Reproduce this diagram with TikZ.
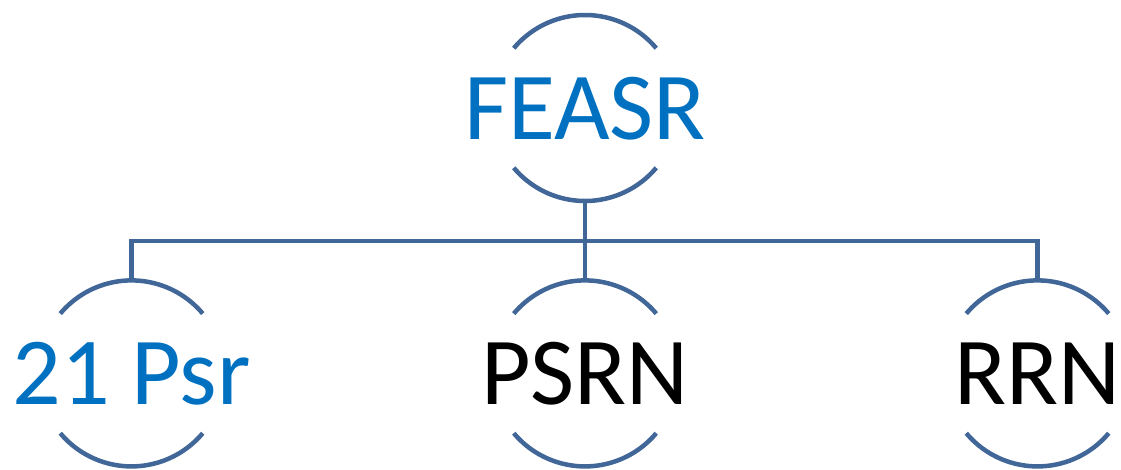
\documentclass[tikz,border=0pt]{standalone}
\usepackage{fontspec}
\setmainfont{Carlito}
\usepackage{tikz}
\usetikzlibrary{positioning}
\definecolor{ringblue}{RGB}{65,102,152}
\definecolor{textblue}{RGB}{0,112,192}
\tikzset{
  member/.style={rectangle, inner sep=0pt, minimum height=186pt, text height=62pt, text depth=0pt, font=\fontsize{96}{100}\selectfont},
  ring/.style={draw=ringblue, line width=4.5pt},
  link/.style={draw=ringblue, line width=4.5pt}
}

\begin{document}
\begin{tikzpicture}[x=1pt, y=1pt]

\useasboundingbox (0,0) rectangle (1121,-469);

\node[member, text=textblue] (feasr) at (585,-108) {FEASR};

\node[member, below = 79pt of feasr] (psrn) {PSRN};

\node[member, text=textblue, left = 453.5pt of psrn.center, anchor=center] (psr) {21 Psr};

\node[member, right = 452.5pt of psrn.center, anchor=center] (rrn) {RRN};

\foreach \n in {feasr, psr, psrn, rrn} {
  \draw[ring] ([shift={(40:93pt)}]\n.center) arc[start angle=40, end angle=140, radius=93pt];
  \draw[ring] ([shift={(220:93pt)}]\n.center) arc[start angle=220, end angle=320, radius=93pt];
}

\coordinate (bus) at ([yshift=-40pt]feasr.south);

\draw[link] (feasr.south) -- (psrn.north);
\draw[link, line join=miter] (psr.north) |- (bus) -| (rrn.north);

\end{tikzpicture}
\end{document}
